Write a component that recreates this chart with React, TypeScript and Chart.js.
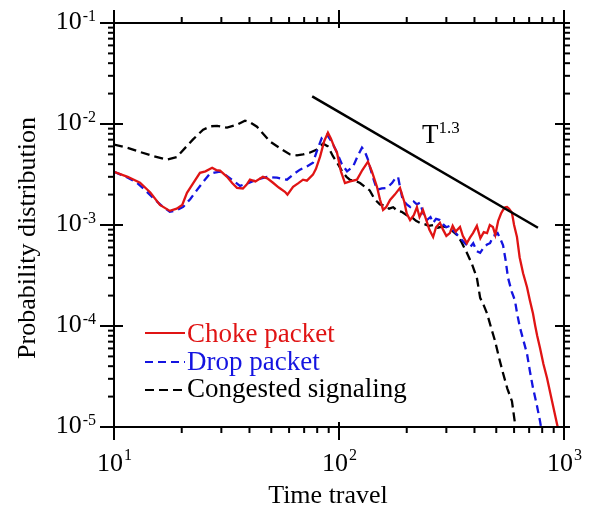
import React, { useEffect, useRef } from 'react';
import { Chart, registerables } from 'chart.js';

Chart.register(...registerables);

// ---- data ----
const chokeX = [10, 11.5, 13.05, 14.5, 16, 17.7, 19, 20.1, 21.1, 22.5, 24.1, 25.5, 27.3, 28.5, 29.6, 31.8, 33.5, 35.2, 37.4, 38.8, 40.2, 42.5, 45.9, 48, 50.9, 54, 57.5, 59, 62.5, 66, 69.2, 72, 76.6, 79, 82.4, 86, 89.3, 92, 95, 98, 102, 106.3, 112, 120.2, 127, 134.5, 140, 147.5, 152, 157, 162, 168.6, 177, 186.7, 195, 200, 207, 215, 222, 228, 236, 245, 252, 262, 270, 281, 290, 300, 311, 320, 330, 345, 355, 370, 382, 394, 410, 425, 440, 455, 468, 483, 495, 510, 525, 536, 548, 558, 570, 587, 600, 618, 635, 658, 685, 705, 728, 745, 760, 782, 810, 840, 885, 931, 960];
const chokeY = [3.37e-3, 3.0e-3, 2.62e-3, 2.1e-3, 1.58e-3, 1.38e-3, 1.45e-3, 1.58e-3, 2.08e-3, 2.6e-3, 3.29e-3, 3.4e-3, 3.69e-3, 3.5e-3, 3.45e-3, 3.0e-3, 2.6e-3, 2.33e-3, 2.3e-3, 2.5e-3, 2.81e-3, 2.7e-3, 3.0e-3, 2.9e-3, 2.62e-3, 2.35e-3, 2.13e-3, 2.0e-3, 2.39e-3, 2.6e-3, 2.81e-3, 2.75e-3, 3.15e-3, 3.6e-3, 4.75e-3, 6.8e-3, 8.22e-3, 7.2e-3, 6.0e-3, 5.2e-3, 3.4e-3, 2.6e-3, 2.7e-3, 2.81e-3, 3.5e-3, 4.24e-3, 3.4e-3, 2.39e-3, 1.8e-3, 1.41e-3, 1.5e-3, 1.77e-3, 2.0e-3, 2.33e-3, 1.7e-3, 1.3e-3, 1.12e-3, 1.25e-3, 1.5e-3, 1.2e-3, 1.41e-3, 1.1e-3, 9.0e-4, 7.6e-4, 9.5e-4, 1.05e-3, 9.0e-4, 7.8e-4, 8.32e-4, 9.8e-4, 8.6e-4, 9.55e-4, 7.8e-4, 6.62e-4, 7.5e-4, 8.32e-4, 9.8e-4, 7.4e-4, 8.5e-4, 8.32e-4, 1.0e-3, 9.55e-4, 8.0e-4, 1.1e-3, 1.3e-3, 1.41e-3, 1.5e-3, 1.51e-3, 1.45e-3, 1.32e-3, 1.0e-3, 7.6e-4, 4.8e-4, 3.33e-4, 2.42e-4, 1.8e-4, 1.33e-4, 1.0e-4, 8.0e-5, 6.1e-5, 4.2e-5, 3.08e-5, 1.8e-5, 1.07e-5, 8.0e-6];

const dropX = [10, 11.3, 12.65, 13.8, 14.9, 16.3, 17.7, 19, 20.3, 21.8, 23.4, 25, 26.7, 28, 29.6, 31.5, 33.4, 36.3, 39.5, 43.2, 47.9, 53, 58.7, 63, 67.1, 72, 76.6, 80, 84, 88.4, 93, 98, 103, 108.6, 115.4, 121, 126.5, 130, 134.5, 140, 147.5, 155, 163.4, 172, 178, 183, 188, 192, 200, 207, 215, 222, 229, 237, 246, 255, 262, 270, 281, 292, 300, 310, 321, 335, 350, 365, 382, 395, 410, 424, 440, 455, 469, 485, 497, 507, 520, 536, 550, 564, 585, 605, 620, 637, 660, 685, 705, 728, 755, 782, 800];
const dropY = [3.37e-3, 3.0e-3, 2.62e-3, 2.2e-3, 1.86e-3, 1.55e-3, 1.35e-3, 1.4e-3, 1.51e-3, 1.8e-3, 2.23e-3, 2.7e-3, 3.22e-3, 3.3e-3, 3.37e-3, 3.1e-3, 2.81e-3, 2.44e-3, 2.6e-3, 2.81e-3, 3.0e-3, 2.94e-3, 2.81e-3, 3.2e-3, 3.53e-3, 3.8e-3, 4.14e-3, 5.5e-3, 7.34e-3, 7.86e-3, 6.6e-3, 5.2e-3, 4.0e-3, 3.4e-3, 3.78e-3, 4.8e-3, 5.83e-3, 5.4e-3, 4.43e-3, 3.2e-3, 2.23e-3, 2.3e-3, 2.33e-3, 2.6e-3, 2.9e-3, 3.0e-3, 2.2e-3, 1.77e-3, 1.6e-3, 1.51e-3, 1.7e-3, 1.6e-3, 1.66e-3, 1.3e-3, 1.12e-3, 1.2e-3, 1.05e-3, 1.15e-3, 1.12e-3, 1.0e-3, 9.5e-4, 9.8e-4, 8.9e-4, 8.0e-4, 7.2e-4, 6.5e-4, 6.0e-4, 6.6e-4, 5.5e-4, 5.3e-4, 6.0e-4, 6.4e-4, 6.6e-4, 7.8e-4, 8.0e-4, 8.3e-4, 7.4e-4, 6.3e-4, 4.5e-4, 3.0e-4, 2.2e-4, 1.8e-4, 1.3e-4, 9.7e-5, 7.2e-5, 5.3e-5, 3.6e-5, 2.44e-5, 1.7e-5, 1.15e-5, 8.5e-6];

const congestedX = [10, 11.5, 13, 15, 17.2, 19, 21, 22.4, 24.9, 27, 28.7, 31.8, 35, 38.2, 40, 43.2, 46, 49.4, 55, 60.6, 65, 69.2, 74, 79.8, 84.9, 89.3, 94, 99, 104, 108, 112, 118, 124, 130, 137, 144, 152, 160, 167, 174, 182, 190, 200, 210, 220, 229, 240, 250, 262, 275, 290, 302, 318, 334, 350, 370, 390, 410, 424, 440, 455, 475, 493, 515, 536, 560, 587, 605, 620];
const congestedY = [6.25e-3, 5.8e-3, 5.3e-3, 4.8e-3, 4.45e-3, 4.7e-3, 6.0e-3, 7.0e-3, 8.8e-3, 9.5e-3, 9.6e-3, 9.2e-3, 9.8e-3, 1.08e-2, 1.05e-2, 9.4e-3, 8.0e-3, 6.7e-3, 5.7e-3, 5.0e-3, 4.9e-3, 5.0e-3, 5.2e-3, 5.6e-3, 6.4e-3, 6.0e-3, 4.8e-3, 4.0e-3, 3.3e-3, 3.0e-3, 2.8e-3, 2.75e-3, 2.6e-3, 2.4e-3, 2.2e-3, 1.8e-3, 1.6e-3, 1.55e-3, 1.45e-3, 1.5e-3, 1.38e-3, 1.35e-3, 1.25e-3, 1.2e-3, 1.1e-3, 1.05e-3, 1.02e-3, 9.8e-4, 1.0e-3, 9.4e-4, 9.7e-4, 9.5e-4, 8.8e-4, 8.0e-4, 6.8e-4, 5.3e-4, 4.1e-4, 3.0e-4, 1.9e-4, 1.6e-4, 1.33e-4, 9.5e-5, 7.2e-5, 4.8e-5, 3.4e-5, 2.4e-5, 1.8e-5, 1.1e-5, 8.0e-6];

const powerX = [76, 766];
const powerY = [0.0188, 9.4e-4];

const seriesNames = ['Choke packet', 'Drop packet', 'Congested signaling'];
const xDecades = [10, 100, 1000];
const xExps = ['1', '2', '3'];
const yDecades = [1e-1, 1e-2, 1e-3, 1e-4, 1e-5];
const yExps = ['-1', '-2', '-3', '-4', '-5'];
const xTitle = 'Time travel';
const yTitle = 'Probability distribution';
const slopeBase = 'T';
const slopeExp = '1.3';

const FONT = '"Liberation Serif", "Times New Roman", serif';
const RED = '#e01414';
const BLUE = '#1414e0';
const BLACK = '#000000';

const toPts = (xs: number[], ys: number[]) => xs.map((x, i) => ({ x, y: ys[i] }));

const framePlugin = {
  id: 'frame',
  afterDraw(chart: any) {
    const { ctx, chartArea: a, scales } = chart;
    const xs = scales.x;
    const ys = scales.y;
    ctx.save();
    ctx.strokeStyle = '#000';
    ctx.lineWidth = 2;
    ctx.setLineDash([]);
    ctx.strokeRect(a.left, a.top, a.right - a.left, a.bottom - a.top);

    const line = (x1: number, y1: number, x2: number, y2: number) => {
      ctx.beginPath();
      ctx.moveTo(x1, y1);
      ctx.lineTo(x2, y2);
      ctx.stroke();
    };

    // x ticks
    for (let d = 0; d < xDecades.length; d++) {
      const p = xs.getPixelForValue(xDecades[d]);
      line(p, a.bottom - 5, p, a.bottom + 13);
      line(p, a.top + 5, p, a.top - 13);
      if (d < xDecades.length - 1) {
        for (let k = 2; k <= 9; k++) {
          const q = xs.getPixelForValue(xDecades[d] * k);
          line(q, a.bottom, q, a.bottom + 6);
          line(q, a.top, q, a.top - 6);
        }
      }
    }
    // y ticks
    for (let d = 0; d < yDecades.length; d++) {
      const p = ys.getPixelForValue(yDecades[d]);
      line(a.left + 9, p, a.left - 14, p);
      line(a.right - 9, p, a.right + 6, p);
      if (d < yDecades.length - 1) {
        for (let k = 2; k <= 9; k++) {
          const q = ys.getPixelForValue(yDecades[d + 1] * k);
          line(a.left, q, a.left - 6, q);
          line(a.right, q, a.right + 6, q);
        }
      }
    }

    ctx.fillStyle = '#000';
    ctx.textBaseline = 'alphabetic';
    const baseFont = `26px ${FONT}`;
    const expFont = `16px ${FONT}`;
    // x labels
    for (let d = 0; d < xDecades.length; d++) {
      const p = xs.getPixelForValue(xDecades[d]);
      ctx.font = baseFont;
      const wb = ctx.measureText('10').width;
      ctx.font = expFont;
      const we = ctx.measureText(xExps[d]).width;
      const start = p - (wb + we) / 2;
      ctx.textAlign = 'left';
      ctx.font = baseFont;
      ctx.fillText('10', start, a.bottom + 44);
      ctx.font = expFont;
      ctx.fillText(xExps[d], start + wb + 1, a.bottom + 33);
    }
    // y labels
    for (let d = 0; d < yDecades.length; d++) {
      const p = ys.getPixelForValue(yDecades[d]);
      ctx.font = expFont;
      const we = ctx.measureText(yExps[d]).width;
      const right = a.left - 18;
      ctx.textAlign = 'left';
      ctx.fillText(yExps[d], right - we, p - 2);
      ctx.font = baseFont;
      const wb = ctx.measureText('10').width;
      ctx.fillText('10', right - we - wb - 1, p + 6);
    }

    // axis titles
    ctx.font = `26px ${FONT}`;
    ctx.textAlign = 'center';
    ctx.fillText(xTitle, 328, 503);
    ctx.save();
    ctx.translate(35, 238);
    ctx.rotate(-Math.PI / 2);
    ctx.fillText(yTitle, 0, 0);
    ctx.restore();

    // slope label
    ctx.textAlign = 'left';
    ctx.font = `27px ${FONT}`;
    ctx.fillText(slopeBase, 422, 143);
    const wt = ctx.measureText(slopeBase).width;
    ctx.font = `17px ${FONT}`;
    ctx.fillText(slopeExp, 422 + wt, 133);

    // legend
    const ds = chart.data.datasets;
    const rows = [333, 362, 390];
    const bases = [342, 370, 397];
    for (let i = 0; i < 3; i++) {
      const s = ds[i + 1];
      ctx.strokeStyle = s.borderColor;
      ctx.lineWidth = 2;
      ctx.setLineDash(s.borderDash || []);
      line(145, rows[i], 185, rows[i]);
      ctx.setLineDash([]);
      ctx.fillStyle = s.borderColor;
      ctx.font = `27px ${FONT}`;
      ctx.fillText(seriesNames[i], 187, bases[i]);
    }
    ctx.restore();
  },
};

export default function App() {
  const ref = useRef<HTMLCanvasElement>(null);
  useEffect(() => {
    if (!ref.current) return;
    const chart = new Chart(ref.current, {
      type: 'line',
      data: {
        datasets: [
          { label: 'T^1.3', data: toPts(powerX, powerY), borderColor: BLACK, borderWidth: 2.5, pointRadius: 0, fill: false },
          { label: seriesNames[0], data: toPts(chokeX, chokeY), borderColor: RED, borderWidth: 2.3, pointRadius: 0, fill: false },
          { label: seriesNames[1], data: toPts(dropX, dropY), borderColor: BLUE, borderWidth: 2.3, borderDash: [8, 5], pointRadius: 0, fill: false },
          { label: seriesNames[2], data: toPts(congestedX, congestedY), borderColor: BLACK, borderWidth: 2.3, borderDash: [9, 5], pointRadius: 0, fill: false },
        ],
      } as any,
      options: {
        animation: false,
        responsive: false,
        layout: { padding: { left: 114, right: 25, top: 23, bottom: 85 } },
        plugins: { legend: { display: false }, tooltip: { enabled: false } },
        elements: { line: { tension: 0 } },
        scales: {
          x: { type: 'logarithmic', min: 10, max: 1000, display: false },
          y: { type: 'logarithmic', min: 1e-5, max: 1e-1, display: false },
        },
      },
      plugins: [framePlugin],
    });
    return () => chart.destroy();
  }, []);
  return (
    <div style={{ position: 'fixed', left: 0, top: 0, width: 589, height: 512, background: '#fff' }}>
      <canvas ref={ref} width={589} height={512} style={{ display: 'block' }} />
    </div>
  );
}
